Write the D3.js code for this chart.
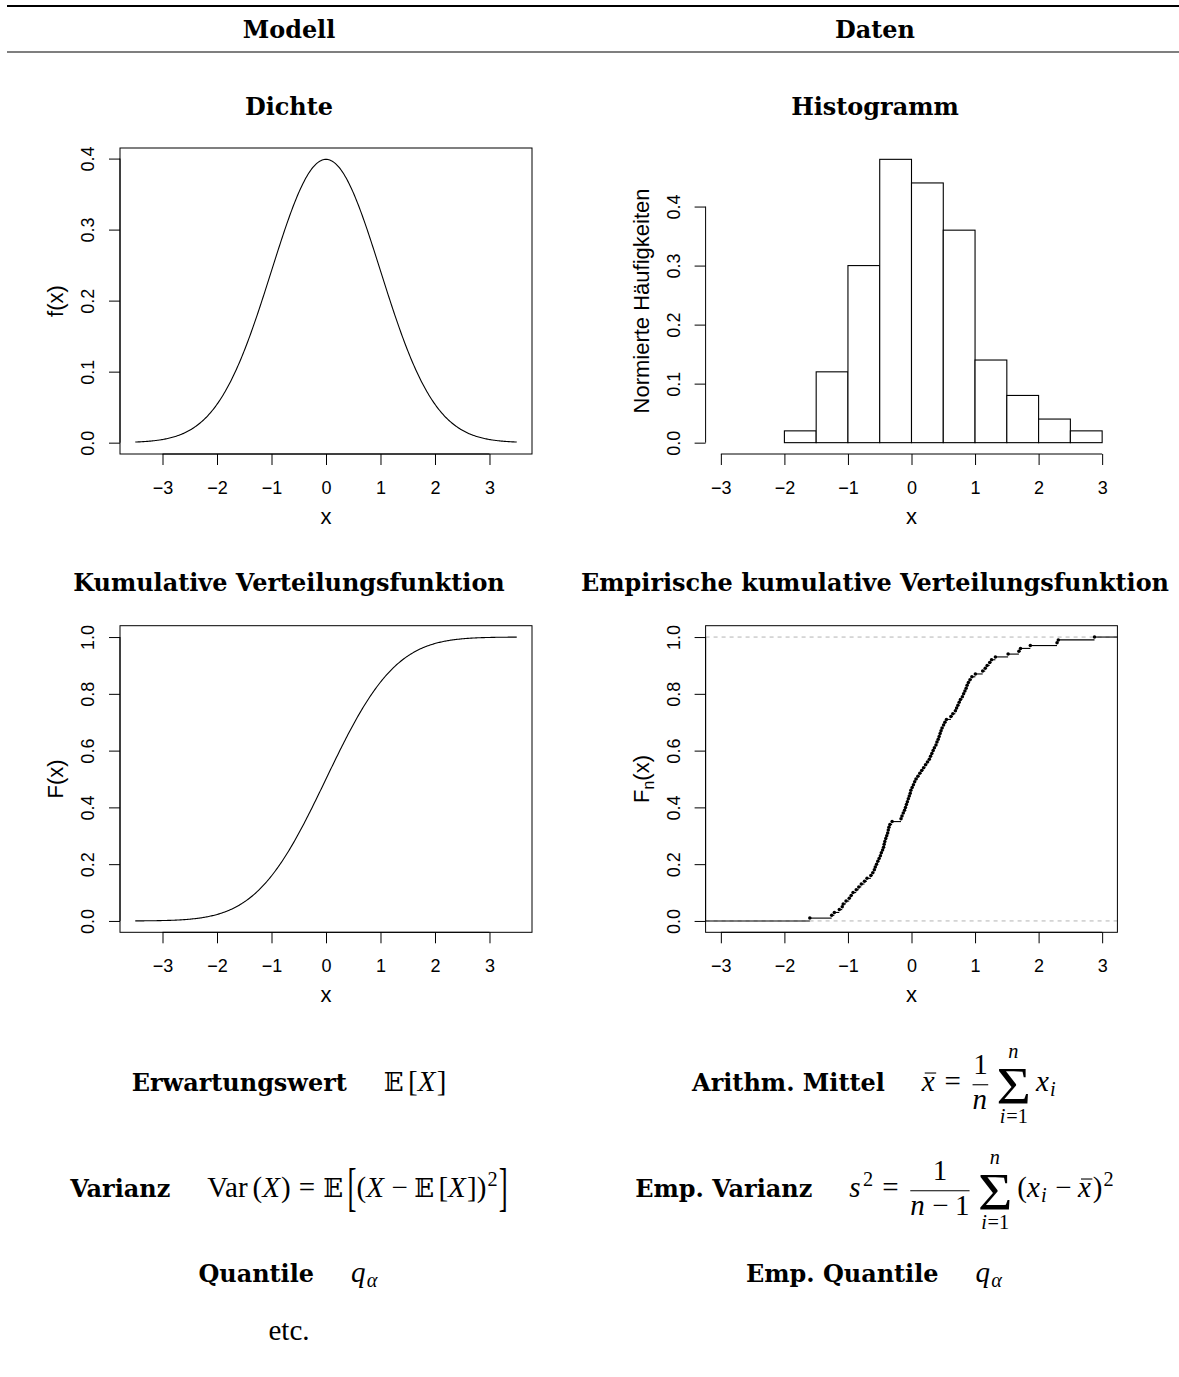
<!DOCTYPE html>
<html>
<head>
<meta charset="utf-8">
<script src="https://cdn.jsdelivr.net/npm/d3@7"></script>
<style>
  html, body { margin: 0; padding: 0; background: #fff; }
  svg { display: block; }
</style>
</head>
<body>
<svg id="chart" width="1179" height="1377"></svg>
<script>
// ---------------- data ----------------
const columnHeaders = ["Modell", "Daten"];
const panelTitles = ["Dichte", "Histogramm", "Kumulative Verteilungsfunktion",
                     "Empirische kumulative Verteilungsfunktion"];

// observed sample (n = 100), sorted
const sample = [
  -1.60, -1.256, -1.214, -1.136, -1.09, -1.075, -1.03,
  -0.98, -0.95, -0.92, -0.87, -0.83, -0.79, -0.74, -0.70, -0.64, -0.61, -0.585, -0.57, -0.55, -0.53, -0.51,
  -0.49, -0.475, -0.455, -0.44, -0.43, -0.42, -0.405, -0.39, -0.375, -0.365, -0.355, -0.34, -0.305,
  -0.165, -0.15, -0.13, -0.11, -0.095, -0.08, -0.065, -0.05, -0.035, -0.02, -0.01,
  0.01, 0.03, 0.05, 0.07, 0.10, 0.13, 0.16, 0.19, 0.22, 0.25, 0.28, 0.30, 0.32, 0.34, 0.36, 0.385,
  0.40, 0.42, 0.435, 0.45, 0.465, 0.48,
  0.505, 0.525, 0.55, 0.62, 0.65, 0.69, 0.71, 0.73, 0.75, 0.77, 0.80, 0.82, 0.84, 0.86, 0.875, 0.895, 0.92, 0.95,
  1.005, 1.12, 1.16, 1.19, 1.23, 1.26, 1.32,
  1.52, 1.69, 1.715, 1.87,
  2.29, 2.31,
  2.88
];
const histBreaks = [-2, -1.5, -1, -0.5, 0, 0.5, 1, 1.5, 2, 2.5, 3];

// theoretical model: standard normal distribution
const modelMean = 0;
const modelSd = 1;
const modelRange = [-3.5, 3.5];

// axis ticks
const xTicks = [-3, -2, -1, 0, 1, 2, 3];
const densityTicks = [0, 0.1, 0.2, 0.3, 0.4];
const histTicks = [0, 0.1, 0.2, 0.3, 0.4];
const cdfTicks = [0, 0.2, 0.4, 0.6, 0.8, 1.0];
const axisTitles = { x: "x", density: "f(x)", hist: "Normierte Häufigkeiten", cdf: "F(x)" };

// ---------------- styling / layout ----------------
const SANS = "'Liberation Sans', Arial, Helvetica, sans-serif";
const SERIF_B = "'DejaVu Serif', serif";
const MATH = "'Liberation Serif', 'Times New Roman', serif";
const DSTRUCK = "'DejaVu Serif', 'DejaVu Sans', serif";
const TICK = 11, TICK_FS = 18, LAB_FS = 22;
const MFS = 29;   // glyph size of formulas
const VE = 25;    // vertical unit of formula layout (fractions, limits, scripts)

const colCenter = [289, 875];
const frameX = [[120, 532], [705.6, 1117.4]];
const frameY = [[148, 454], [625.7, 932.3]];

const svg = d3.select("#chart");
svg.append("rect").attr("width", 1179).attr("height", 1377).attr("fill", "#fff");

const extend = (d, f = 0.04) => { const r = d[1] - d[0]; return [d[0] - f * r, d[1] + f * r]; };
const fmtX = v => (v < 0 ? "\u2212" + Math.abs(v) : String(v));
const fmtY = v => v.toFixed(1);

// bold serif size, derived from the width the longest left title should take
const probe = svg.append("text").attr("font-family", SERIF_B).attr("font-weight", "bold")
  .attr("font-size", 100).text(panelTitles[2]);
const BFS = 0.975 * 100 * 443 / probe.node().getComputedTextLength();
probe.remove();

// ---------------- table header ----------------
svg.append("line").attr("x1", 7).attr("x2", 1179).attr("y1", 6).attr("y2", 6)
  .attr("stroke", "#000").attr("stroke-width", 2);
svg.append("line").attr("x1", 7).attr("x2", 1179).attr("y1", 52).attr("y2", 52)
  .attr("stroke", "#000").attr("stroke-width", 1.2);
columnHeaders.forEach((h, i) => {
  svg.append("text").attr("x", colCenter[i]).attr("y", 38).attr("text-anchor", "middle")
    .attr("font-family", SERIF_B).attr("font-weight", "bold").attr("font-size", BFS).text(h);
});
const titleBaselines = [115, 115, 590.7, 590.7];
panelTitles.forEach((t, i) => {
  svg.append("text").attr("x", colCenter[i % 2]).attr("y", titleBaselines[i]).attr("text-anchor", "middle")
    .attr("font-family", SERIF_B).attr("font-weight", "bold").attr("font-size", BFS).text(t);
});

// ---------------- axis helpers (R-like) ----------------
function axisBottom(g, x, yPix, ticks) {
  const ag = g.append("g").attr("transform", `translate(0,${yPix})`)
    .call(d3.axisBottom(x).tickValues(ticks).tickSize(TICK).tickSizeOuter(0).tickFormat(fmtX));
  ag.attr("font-size", TICK_FS).attr("font-family", SANS);
  ag.select(".domain").remove();
  ag.append("line").attr("x1", x(ticks[0])).attr("x2", x(ticks[ticks.length - 1])).attr("stroke", "#000");
  ag.selectAll(".tick line").attr("stroke", "#000");
  ag.selectAll(".tick text").attr("y", 40).attr("dy", null).attr("fill", "#000");
}
function axisLeft(g, y, xPix, ticks) {
  const ag = g.append("g").attr("transform", `translate(${xPix},0)`)
    .call(d3.axisLeft(y).tickValues(ticks).tickSize(TICK).tickSizeOuter(0).tickFormat(fmtY));
  ag.attr("font-size", TICK_FS).attr("font-family", SANS);
  ag.select(".domain").remove();
  ag.append("line").attr("y1", y(ticks[0])).attr("y2", y(ticks[ticks.length - 1])).attr("stroke", "#000");
  ag.selectAll(".tick line").attr("stroke", "#000");
  ag.selectAll(".tick text").attr("x", 0).attr("y", -25.6).attr("dy", null)
    .attr("text-anchor", "middle").attr("transform", "rotate(-90)").attr("fill", "#000");
}
function axisLabels(g, fx, fy, ylab) {
  g.append("text").attr("x", (fx[0] + fx[1]) / 2).attr("y", fy[1] + 70).attr("text-anchor", "middle")
    .attr("font-family", SANS).attr("font-size", LAB_FS).text(axisTitles.x);
  const t = g.append("text")
    .attr("transform", `translate(${fx[0] - 57},${(fy[0] + fy[1]) / 2}) rotate(-90)`)
    .attr("text-anchor", "middle").attr("font-family", SANS).attr("font-size", LAB_FS);
  if (typeof ylab === "string") t.text(ylab);
  else ylab(t);
}
function box(g, fx, fy) {
  g.append("rect").attr("x", fx[0]).attr("y", fy[0]).attr("width", fx[1] - fx[0]).attr("height", fy[1] - fy[0])
    .attr("fill", "none").attr("stroke", "#000").attr("stroke-width", 1);
}

// ---------------- model functions ----------------
function erf(z) {
  const s = Math.sign(z), a = Math.abs(z);
  const t = 1 / (1 + 0.3275911 * a);
  const p = t * (0.254829592 + t * (-0.284496736 + t * (1.421413741 + t * (-1.453152027 + t * 1.061405429))));
  return s * (1 - p * Math.exp(-a * a));
}
const pdf = x => Math.exp(-0.5 * ((x - modelMean) / modelSd) ** 2) / (modelSd * Math.sqrt(2 * Math.PI));
const cdf = x => 0.5 * (1 + erf((x - modelMean) / (modelSd * Math.SQRT2)));
const grid = d3.range(0, 401).map(i => modelRange[0] + i * (modelRange[1] - modelRange[0]) / 400);

// ---------------- panel 1: density ----------------
{
  const g = svg.append("g");
  const fx = frameX[0], fy = frameY[0];
  const x = d3.scaleLinear().domain(extend(modelRange)).range(fx);
  const y = d3.scaleLinear().domain(extend([0, pdf(modelMean)])).range([fy[1], fy[0]]);
  g.append("path").datum(grid).attr("fill", "none").attr("stroke", "#000").attr("stroke-width", 1.1)
    .attr("d", d3.line().x(d => x(d)).y(d => y(pdf(d))));
  box(g, fx, fy);
  axisBottom(g, x, fy[1], xTicks);
  axisLeft(g, y, fx[0], densityTicks);
  axisLabels(g, fx, fy, axisTitles.density);
}

// ---------------- panel 2: histogram ----------------
{
  const g = svg.append("g");
  const fx = frameX[1], fy = frameY[0];
  const n = sample.length;
  const bins = d3.bin().domain([histBreaks[0], histBreaks[histBreaks.length - 1]])
    .thresholds(histBreaks.slice(1, -1))(sample);
  bins.forEach(b => { b.density = b.length / (n * (b.x1 - b.x0)); });
  const x = d3.scaleLinear().domain(extend([xTicks[0], xTicks[xTicks.length - 1]])).range(fx);
  const y = d3.scaleLinear().domain(extend([0, d3.max(bins, b => b.density)])).range([fy[1], fy[0]]);
  g.selectAll("rect.bar").data(bins).join("rect").attr("class", "bar")
    .attr("x", b => x(b.x0)).attr("width", b => x(b.x1) - x(b.x0))
    .attr("y", b => y(b.density)).attr("height", b => y(0) - y(b.density))
    .attr("fill", "#fff").attr("stroke", "#000").attr("stroke-width", 1.1);
  axisBottom(g, x, fy[1], xTicks);
  axisLeft(g, y, fx[0], histTicks);
  axisLabels(g, fx, fy, axisTitles.hist);
}

// ---------------- panel 3: CDF ----------------
{
  const g = svg.append("g");
  const fx = frameX[0], fy = frameY[1];
  const x = d3.scaleLinear().domain(extend(modelRange)).range(fx);
  const y = d3.scaleLinear().domain(extend([0, 1])).range([fy[1], fy[0]]);
  g.append("path").datum(grid).attr("fill", "none").attr("stroke", "#000").attr("stroke-width", 1.1)
    .attr("d", d3.line().x(d => x(d)).y(d => y(cdf(d))));
  box(g, fx, fy);
  axisBottom(g, x, fy[1], xTicks);
  axisLeft(g, y, fx[0], cdfTicks);
  axisLabels(g, fx, fy, axisTitles.cdf);
}

// ---------------- panel 4: empirical CDF ----------------
{
  const g = svg.append("g");
  const fx = frameX[1], fy = frameY[1];
  const xs = sample.slice().sort((a, b) => a - b);
  const n = xs.length;
  const x = d3.scaleLinear().domain(extend([xTicks[0], xTicks[xTicks.length - 1]])).range(fx);
  const y = d3.scaleLinear().domain(extend([0, 1])).range([fy[1], fy[0]]);
  const [xl, xr] = x.domain();
  [0, 1].forEach(h => {
    g.append("line").attr("x1", fx[0]).attr("x2", fx[1]).attr("y1", y(h)).attr("y2", y(h))
      .attr("stroke", "#b3b3b3").attr("stroke-dasharray", "4,4");
  });
  const steps = [{ a: xl, b: xs[0], v: 0 }];
  xs.forEach((v, i) => steps.push({ a: v, b: i < n - 1 ? xs[i + 1] : xr, v: (i + 1) / n }));
  g.selectAll("line.step").data(steps).join("line").attr("class", "step")
    .attr("x1", d => x(d.a)).attr("x2", d => x(d.b)).attr("y1", d => y(d.v)).attr("y2", d => y(d.v))
    .attr("stroke", "#000").attr("stroke-width", 1.1);
  g.selectAll("circle.pt").data(xs).join("circle").attr("class", "pt")
    .attr("cx", d => x(d)).attr("cy", (d, i) => y((i + 1) / n)).attr("r", 1.75).attr("fill", "#000");
  box(g, fx, fy);
  axisBottom(g, x, fy[1], xTicks);
  axisLeft(g, y, fx[0], cdfTicks);
  axisLabels(g, fx, fy, t => {
    t.append("tspan").text("F");
    t.append("tspan").attr("font-size", LAB_FS * 0.72).attr("dy", 5).text("n");
    t.append("tspan").attr("dy", -5).text("(x)");
  });
}

// ---------------- formulas (small math layout) ----------------
function txt(g, s, x, y, fs, o = {}) {
  return g.append("text").attr("x", x).attr("y", y).attr("font-size", fs)
    .attr("font-family", o.family || MATH)
    .attr("font-style", o.italic ? "italic" : null)
    .attr("font-weight", o.bold ? "bold" : null)
    .attr("fill", "#000").text(s);
}
const wOf = t => t.node().getComputedTextLength();
function seq(g, items, fs) {
  let x = 0;
  items.forEach(it => { x += item(g, it, x, fs); });
  return x;
}
function item(g, it, x, fs) {
  if (typeof it === "string") return wOf(txt(g, it, x, 0, fs));
  if (it.gap != null) return it.gap * fs;
  if (it.px != null) return it.px;
  if (it.b) return wOf(txt(g, it.b, x, 0, BFS, { family: SERIF_B, bold: true }));
  if (it.i) return wOf(txt(g, it.i, x, 0, fs, { italic: true })) + 0.04 * fs;
  if (it.bb) return wOf(txt(g, it.bb, x, 0, fs * 0.9, { family: DSTRUCK }));
  if (it.sup) {
    const sg = g.append("g").attr("transform", `translate(${x + 0.04 * fs},${-0.45 * VE})`);
    return seq(sg, it.sup, fs * 0.7) + 0.08 * fs;
  }
  if (it.sub) {
    const sg = g.append("g").attr("transform", `translate(${x},${0.2 * VE})`);
    return seq(sg, it.sub, fs * 0.7) + 0.05 * fs;
  }
  if (it.bar) {
    const t = txt(g, it.bar, x, 0, fs, { italic: true });
    const w = wOf(t);
    g.append("line").attr("x1", x + 0.1 * fs).attr("x2", x + w + 0.05 * fs)
      .attr("y1", -0.62 * fs).attr("y2", -0.62 * fs).attr("stroke", "#000").attr("stroke-width", 1.1);
    return w + 0.06 * fs;
  }
  if (it.frac) {
    const ng = g.append("g"), dg = g.append("g");
    const nw = seq(ng, it.frac[0], fs), dw = seq(dg, it.frac[1], fs);
    const pad = 0.12 * fs, m = Math.max(nw, dw);
    ng.attr("transform", `translate(${x + pad + (m - nw) / 2},${-0.7 * VE})`);
    dg.attr("transform", `translate(${x + pad + (m - dw) / 2},${0.7 * VE})`);
    g.append("line").attr("x1", x + pad).attr("x2", x + pad + m)
      .attr("y1", -0.25 * VE).attr("y2", -0.25 * VE).attr("stroke", "#000").attr("stroke-width", 1.1);
    return m + 2 * pad;
  }
  if (it.sum) {
    const sfs = 2.15 * VE, sx = 1.1;
    const s = txt(g, "\u03A3", 0, 0, sfs);
    const sw = wOf(s) * sx;
    const ug = g.append("g"), lg = g.append("g");
    const uw = seq(ug, it.sum[0], fs * 0.7), lw = seq(lg, it.sum[1], fs * 0.7);
    const m = Math.max(sw, uw, lw);
    s.attr("transform", `translate(${x + (m - sw) / 2},${0.5 * VE}) scale(${sx},1)`);
    ug.attr("transform", `translate(${x + (m - uw) / 2},${-1.34 * VE})`);
    lg.attr("transform", `translate(${x + (m - lw) / 2},${1.26 * VE})`);
    return m + 0.17 * fs;
  }
  if (it.big) {
    const t = txt(g, it.big, 0, 7.5, 2.15 * VE);
    const w = wOf(t) * 0.5;
    t.attr("transform", `translate(${x},0) scale(0.5,1)`);
    return w;
  }
  return 0;
}
function mathRow(cx, baseline, items) {
  const g = svg.append("g");
  const w = seq(g, items, MFS);
  g.attr("transform", `translate(${cx - w / 2},${baseline})`);
}

const REL = s => [{ gap: 0.28 }, s, { gap: 0.28 }];
const BIN = s => [{ gap: 0.22 }, s, { gap: 0.22 }];
const LABEL_GAP = { px: 37 };
const sumLimits = [[{ i: "n" }], [{ i: "i" }, "=1"]];

mathRow(colCenter[0], 1091, [{ b: "Erwartungswert" }, LABEL_GAP, { bb: "\u{1D53C}" }, { gap: 0.15 }, "[", { i: "X" }, "]"]);
mathRow(colCenter[1], 1091, [{ b: "Arithm. Mittel" }, LABEL_GAP, { bar: "x" }, ...REL("="),
  { frac: [["1"], [{ i: "n" }]] }, { gap: 0.17 }, { sum: sumLimits }, { i: "x" }, { sub: [{ i: "i" }] }]);

mathRow(colCenter[0], 1197, [{ b: "Varianz" }, LABEL_GAP, "Var", { gap: 0.17 }, "(", { i: "X" }, ")", ...REL("="),
  { bb: "\u{1D53C}" }, { gap: 0.15 }, { big: "[" }, "(", { i: "X" }, ...BIN("\u2212"), { bb: "\u{1D53C}" }, { gap: 0.15 },
  "[", { i: "X" }, "]", ")", { sup: ["2"] }, { big: "]" }]);
mathRow(colCenter[1], 1197, [{ b: "Emp. Varianz" }, LABEL_GAP, { i: "s" }, { sup: ["2"] }, ...REL("="),
  { frac: [["1"], [{ i: "n" }, ...BIN("\u2212"), "1"]] }, { gap: 0.17 }, { sum: sumLimits }, "(", { i: "x" },
  { sub: [{ i: "i" }] }, ...BIN("\u2212"), { bar: "x" }, ")", { sup: ["2"] }]);

mathRow(colCenter[0], 1282, [{ b: "Quantile" }, LABEL_GAP, { i: "q" }, { sub: [{ i: "\u03B1" }] }]);
mathRow(colCenter[1], 1282, [{ b: "Emp. Quantile" }, LABEL_GAP, { i: "q" }, { sub: [{ i: "\u03B1" }] }]);
mathRow(colCenter[0], 1340, ["etc."]);
</script>
</body>
</html>
